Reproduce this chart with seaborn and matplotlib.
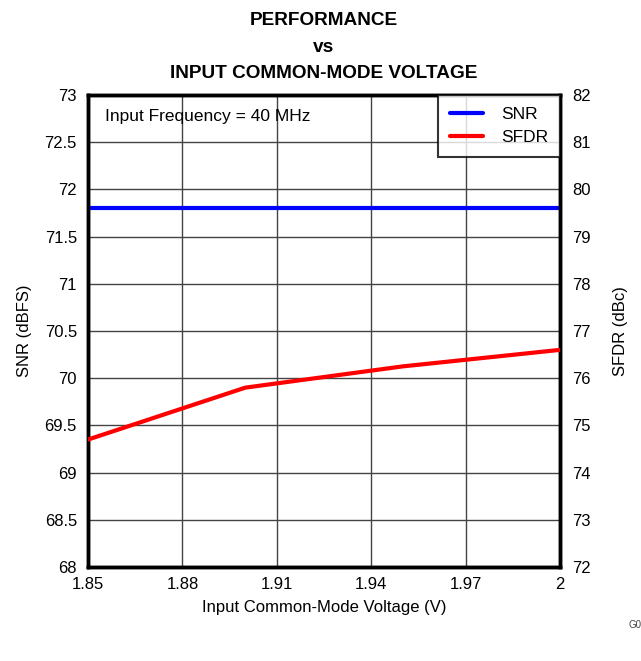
import matplotlib
matplotlib.use("Agg")
import matplotlib.pyplot as plt
import seaborn as sns
import pandas as pd
from matplotlib.lines import Line2D

# Measured data
voltage = [1.85, 1.90, 1.95, 2.00]
snr_dbfs = [71.8, 71.8, 71.8, 71.8]
sfdr_dbc = [74.7, 75.8, 76.25, 76.6]

x_ticks = [1.85, 1.88, 1.91, 1.94, 1.97, 2.00]
x_tick_labels = ["1.85", "1.88", "1.91", "1.94", "1.97", "2"]
snr_ticks = [68, 68.5, 69, 69.5, 70, 70.5, 71, 71.5, 72, 72.5, 73]
snr_tick_labels = ["68", "68.5", "69", "69.5", "70", "70.5", "71", "71.5", "72", "72.5", "73"]
sfdr_ticks = [72, 73, 74, 75, 76, 77, 78, 79, 80, 81, 82]
sfdr_tick_labels = [str(t) for t in sfdr_ticks]

sns.set_theme(style="white")
plt.rcParams["font.family"] = ["Liberation Sans", "DejaVu Sans"]
plt.rcParams["text.color"] = "black"
plt.rcParams["axes.labelcolor"] = "black"
plt.rcParams["xtick.color"] = "black"
plt.rcParams["ytick.color"] = "black"

df = pd.DataFrame({"V": voltage, "SNR": snr_dbfs, "SFDR": sfdr_dbc})

fig = plt.figure(figsize=(6.41, 6.61), dpi=100)
ax = fig.add_axes([0.1373, 0.1422, 0.7363, 0.7141])
ax2 = ax.twinx()

sns.lineplot(data=df, x="V", y="SNR", ax=ax, color="#0000ff", linewidth=3, zorder=5)
sns.lineplot(data=df, x="V", y="SFDR", ax=ax2, color="#ff0000", linewidth=3, zorder=5)

ax.set_xlim(1.85, 2.00)
ax.set_ylim(68, 73)
ax2.set_ylim(72, 82)

ax.set_xticks(x_ticks)
ax.set_xticklabels(x_tick_labels, fontsize=12)
ax.set_yticks(snr_ticks)
ax.set_yticklabels(snr_tick_labels, fontsize=12)
ax2.set_yticks(sfdr_ticks)
ax2.set_yticklabels(sfdr_tick_labels, fontsize=12)

ax.grid(True, color="#444444", linewidth=1)
ax.set_axisbelow(True)
ax.tick_params(axis="x", length=0, pad=7)
ax.tick_params(axis="y", length=0, pad=8)
ax2.tick_params(axis="y", length=0, pad=9)
for a in (ax, ax2):
    for s in a.spines.values():
        s.set_color("black")
        s.set_linewidth(2.5)

ax.set_xlabel("Input Common-Mode Voltage (V)", fontsize=12, labelpad=6)
ax.set_ylabel("SNR (dBFS)", fontsize=12, labelpad=9)
ax2.set_ylabel("SFDR (dBc)", fontsize=12, labelpad=16)

ax.set_title("PERFORMANCE\nvs\nINPUT COMMON-MODE VOLTAGE", fontsize=13.7,
             fontweight="bold", linespacing=1.75, pad=12, color="black")

ax.text(0.035, 0.97, "Input Frequency = 40 MHz", transform=ax.transAxes,
        fontsize=12.5, va="top", ha="left")

handles = [Line2D([], [], color="#0000ff", linewidth=3),
           Line2D([], [], color="#ff0000", linewidth=3)]
leg = ax2.legend(handles, ["SNR", "SFDR"], loc="upper right",
                 bbox_to_anchor=(1.0, 1.0), fontsize=12.5, frameon=True,
                 fancybox=False, borderaxespad=0, handlelength=1.9,
                 borderpad=0.7, labelspacing=0.45, handletextpad=1.0)
leg.get_frame().set_edgecolor("black")
leg.get_frame().set_linewidth(1.5)

fig.text(0.981, 0.055, "G038", fontsize=7, color="#444444", ha="left", va="center")

fig.savefig("out.png", dpi=100)
